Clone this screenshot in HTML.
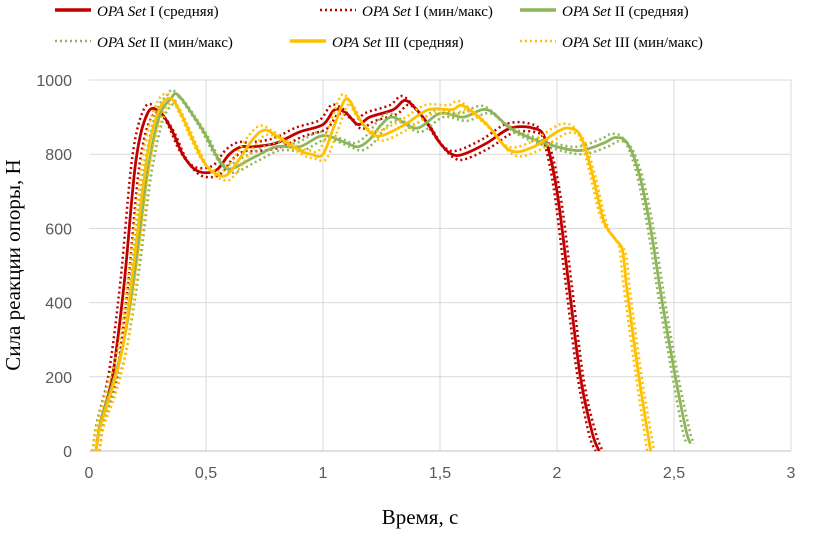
<!DOCTYPE html>
<html><head><meta charset="utf-8"><style>
body{margin:0;background:#fff;width:815px;height:531px;overflow:hidden}
svg text{font-family:"Liberation Serif",serif}
svg text.sans{font-family:"Liberation Sans",sans-serif}
</style></head><body>
<svg id="chart" width="815" height="531" xmlns="http://www.w3.org/2000/svg">
<g id="grid"></g>
<g id="axes"></g>
<g id="series"></g>
<g id="legend"></g>
<text transform="translate(20,265) rotate(-90)" text-anchor="middle" font-size="21" fill="#000">Сила реакции опоры, Н</text>
<text x="420" y="524" text-anchor="middle" font-size="21" fill="#000">Время, с</text>
</svg>
<script>
const xTicks=[0,0.5,1,1.5,2,2.5,3];
const xTickLabels=["0","0,5","1","1,5","2","2,5","3"];
const yTicks=[0,200,400,600,800,1000];
const t1=[0.03,0.05,0.1,0.15,0.2,0.25,0.3,0.35,0.4,0.45,0.5,0.55,0.6,0.65,0.7,0.8,0.9,1.0,1.05,1.1,1.15,1.2,1.3,1.35,1.4,1.45,1.5,1.55,1.6,1.7,1.8,1.9,1.95,2.0,2.05,2.1,2.15,2.18];
const v1=[0,80,200,450,780,910,915,870,800,760,750,760,800,820,820,830,860,880,920,910,880,900,920,945,920,880,830,800,800,830,870,870,840,700,450,200,50,0];
const t2=[0.03,0.05,0.1,0.15,0.2,0.25,0.3,0.35,0.38,0.45,0.5,0.55,0.6,0.7,0.8,0.9,1.0,1.1,1.15,1.2,1.25,1.3,1.4,1.5,1.6,1.7,1.8,1.9,2.0,2.1,2.2,2.25,2.3,2.35,2.4,2.45,2.5,2.55,2.57];
const v2=[0,80,180,300,500,750,900,950,960,900,850,790,760,790,820,820,850,830,820,840,880,900,870,910,900,920,870,840,820,810,830,845,830,750,600,400,220,60,20];
const t3=[0.03,0.05,0.1,0.15,0.2,0.25,0.3,0.35,0.4,0.45,0.5,0.55,0.6,0.7,0.75,0.8,0.9,0.95,1.0,1.05,1.1,1.15,1.2,1.25,1.35,1.45,1.55,1.6,1.7,1.8,1.9,2.0,2.05,2.1,2.15,2.2,2.25,2.28,2.3,2.35,2.4];
const v3=[0,70,170,300,550,800,920,950,900,830,770,745,750,840,865,850,810,800,800,880,950,900,860,850,880,920,920,930,880,810,820,860,870,850,750,620,570,540,430,200,0];
// min/max envelope: time shift (s) and value offset (N) per set
const envShift=[0.015,0.015,0.015];
const envOffset=[12,10,12];
const colors=["#c00000","#8db55a","#ffc000"];
const names=["OPA Set I","OPA Set II","OPA Set III"];
const X=v=>89+v*234, Y=v=>451-v*0.371;
const NS="http://www.w3.org/2000/svg";
function el(tag,attrs,parent){const e=document.createElementNS(NS,tag);for(const k in attrs)e.setAttribute(k,attrs[k]);parent.appendChild(e);return e;}
const grid=document.getElementById('grid'),axes=document.getElementById('axes'),ser=document.getElementById('series'),leg=document.getElementById('legend');
yTicks.forEach(v=>{const l=el('line',{x1:89,x2:791,y1:Y(v),y2:Y(v),stroke:v===0?'#bfbfbf':'#d9d9d9','stroke-width':1},grid);

const t=el('text',{x:72,y:Y(v)+6,'text-anchor':'end','font-size':16,fill:'#595959',class:'sans'},axes);t.textContent=v;
});
xTicks.forEach((v,i)=>{if(v>0){const l=el('line',{x1:X(v),x2:X(v),y1:Y(0),y2:Y(1000),stroke:'#d9d9d9','stroke-width':1},grid);
}
const t=el('text',{x:X(v),y:478,'text-anchor':'middle','font-size':16,fill:'#595959',class:'sans'},axes);t.textContent=xTickLabels[i];
});
function path(ts,vs){const p=ts.map((t,i)=>[X(t),Y(Math.max(0,vs[i]))]);let d='M'+p[0][0]+','+p[0][1];
for(let i=0;i<p.length-1;i++){const a=p[Math.max(0,i-1)],b=p[i],c=p[i+1],e=p[Math.min(p.length-1,i+2)];
d+=` C${b[0]+(c[0]-a[0])/6},${b[1]+(c[1]-a[1])/6} ${c[0]-(e[0]-b[0])/6},${c[1]-(e[1]-b[1])/6} ${c[0]},${c[1]}`;}return d;}
[[t1,v1],[t2,v2],[t3,v3]].forEach(([ts,vs],s)=>{
[-1,1].forEach(sg=>{const tt=ts.map(t=>t+sg*envShift[s]);const vv=vs.map(v=>v>100?v-sg*envOffset[s]:v);
const p=el('path',{d:path(tt,vv),fill:'none',stroke:colors[s],'stroke-width':2.5,'stroke-dasharray':'2 3'},ser);
});
const m=el('path',{d:path(ts,vs),fill:'none',stroke:colors[s],'stroke-width':2.8},ser);
});
const legPos=[[55,14,0,0],[320,14,0,1],[520,14,1,0],[55,45,1,1],[290,45,2,0],[520,45,2,1]];
legPos.forEach(([x,y,s,dot])=>{const g=el('g',{},leg);
el('line',{x1:x,x2:x+36,y1:y-4,y2:y-4,stroke:colors[s],'stroke-width':dot?2.5:3.5,'stroke-dasharray':dot?'2 3':'none'},g);
const t=el('text',{x:x+42,y:y+2,'font-size':15,fill:'#000'},g);
const it=el('tspan',{'font-style':'italic'},t);it.textContent=names[s].split(' ').slice(0,2).join(' ');
const r=el('tspan',{},t);r.textContent=' '+names[s].split(' ')[2]+(dot?' (мин/макс)':' (средняя)');});
</script>
</body></html>
